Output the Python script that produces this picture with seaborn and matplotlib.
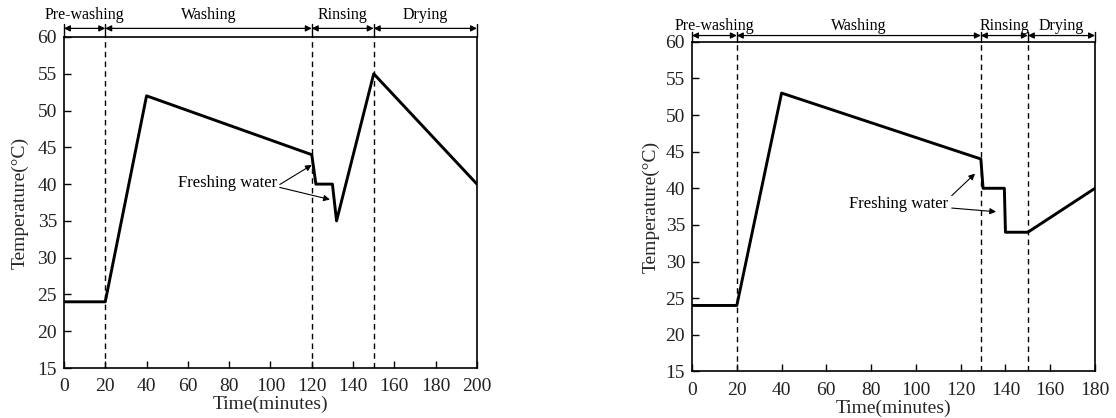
import numpy as np
import pandas as pd
import matplotlib
matplotlib.use("Agg")
import matplotlib.pyplot as plt
import matplotlib.transforms as mtransforms
import seaborn as sns

# ---------------- data ----------------
left_time = [0, 20, 40, 120, 122, 130, 132, 150, 200]
left_temp = [24, 24, 52, 44, 40, 40, 35, 55, 40]
left_bounds = [0, 20, 120, 150, 200]

right_time = [0, 20, 40, 129, 130, 139.5, 140, 150, 180]
right_temp = [24, 24, 53, 44, 40, 40, 34, 34, 40]
right_bounds = [0, 20, 129, 150, 180]

phases = ["Pre-washing", "Washing", "Rinsing", "Drying"]
annot_text = "Freshing water"
left_annot_targets = [(120, 42.6), (128.8, 37.9)]
right_annot_targets = [(126.4, 42.0), (135.8, 36.8)]

y_ticks = [15, 20, 25, 30, 35, 40, 45, 50, 55, 60]
left_xticks = list(range(0, 201, 20))
right_xticks = list(range(0, 181, 20))

# ---------------- style ----------------
sns.set_theme(style="ticks")
plt.rcParams["font.family"] = ["Liberation Serif", "DejaVu Serif"]
plt.rcParams["axes.edgecolor"] = "black"
plt.rcParams["axes.linewidth"] = 1.2

fig = plt.figure(figsize=(11.16, 4.18), dpi=100)
ax1 = fig.add_axes([0.0573, 0.1196, 0.3701, 0.7919])
ax2 = fig.add_axes([0.6201, 0.1115, 0.3611, 0.7885])


def draw(ax, t, T, bounds, xticks, targets, text_xy, tail_offsets, arrow_y,
         label_y, ylabelpad):
    df = pd.DataFrame({"Time": t, "Temp": T})
    sns.lineplot(data=df, x="Time", y="Temp", ax=ax, color="black",
                 linewidth=2.1, sort=False, estimator=None)
    ax.set_xlim(bounds[0], bounds[-1])
    ax.set_ylim(15, 60)
    ax.set_xticks(xticks)
    ax.set_yticks(y_ticks)
    ax.tick_params(direction="in", length=5, width=1.0, labelsize=14,
                   colors="black", labelcolor="#222222")
    ax.tick_params(axis="x", pad=7.5)
    ax.tick_params(axis="y", pad=5)
    ax.set_xlabel("Time(minutes)", fontsize=14, labelpad=0.5)
    ax.set_ylabel("Temperature(°C)", fontsize=14, labelpad=ylabelpad)
    for s in ax.spines.values():
        s.set_visible(True)
        s.set_color("black")

    # phase boundaries (dashed inside)
    for b in bounds[1:-1]:
        ax.axvline(b, color="black", linestyle=(0, (4, 3)), linewidth=1.0)

    trans = mtransforms.blended_transform_factory(ax.transData, ax.transAxes)
    # vertical marks above the plot at boundaries
    for b in bounds:
        ax.plot([b, b], [1.0, arrow_y + 0.012], transform=trans,
                color="black", linewidth=1.0, clip_on=False)
    # dimension arrows + labels
    for i, name in enumerate(phases):
        a, c = bounds[i], bounds[i + 1]
        ax.annotate("", xy=(a, arrow_y), xytext=(c, arrow_y),
                    xycoords=trans, textcoords=trans,
                    arrowprops=dict(arrowstyle="<|-|>", color="black",
                                    lw=0.9, mutation_scale=9,
                                    shrinkA=0, shrinkB=0))
        ax.text((a + c) / 2, label_y, name, transform=trans, ha="center",
                va="center", fontsize=11.5, color="black")

    # Freshing water annotation
    ax.text(text_xy[0], text_xy[1], annot_text, ha="right", va="center",
            fontsize=12, color="black")
    for (tx, ty), off in zip(targets, tail_offsets):
        ax.annotate("", xy=(tx, ty), xytext=(text_xy[0] + 1.5, text_xy[1] + off),
                    arrowprops=dict(arrowstyle="-|>", color="black", lw=0.8,
                                    mutation_scale=9, shrinkA=0, shrinkB=0))


draw(ax1, left_time, left_temp, left_bounds, left_xticks, left_annot_targets,
     (103, 40.1), [-0.15, -0.55], 1.026, 1.066, 6)
draw(ax2, right_time, right_temp, right_bounds, right_xticks, right_annot_targets,
     (114.5, 37.8), [1.2, -0.5], 1.019, 1.049, 4)

fig.savefig("out.png", dpi=100)
